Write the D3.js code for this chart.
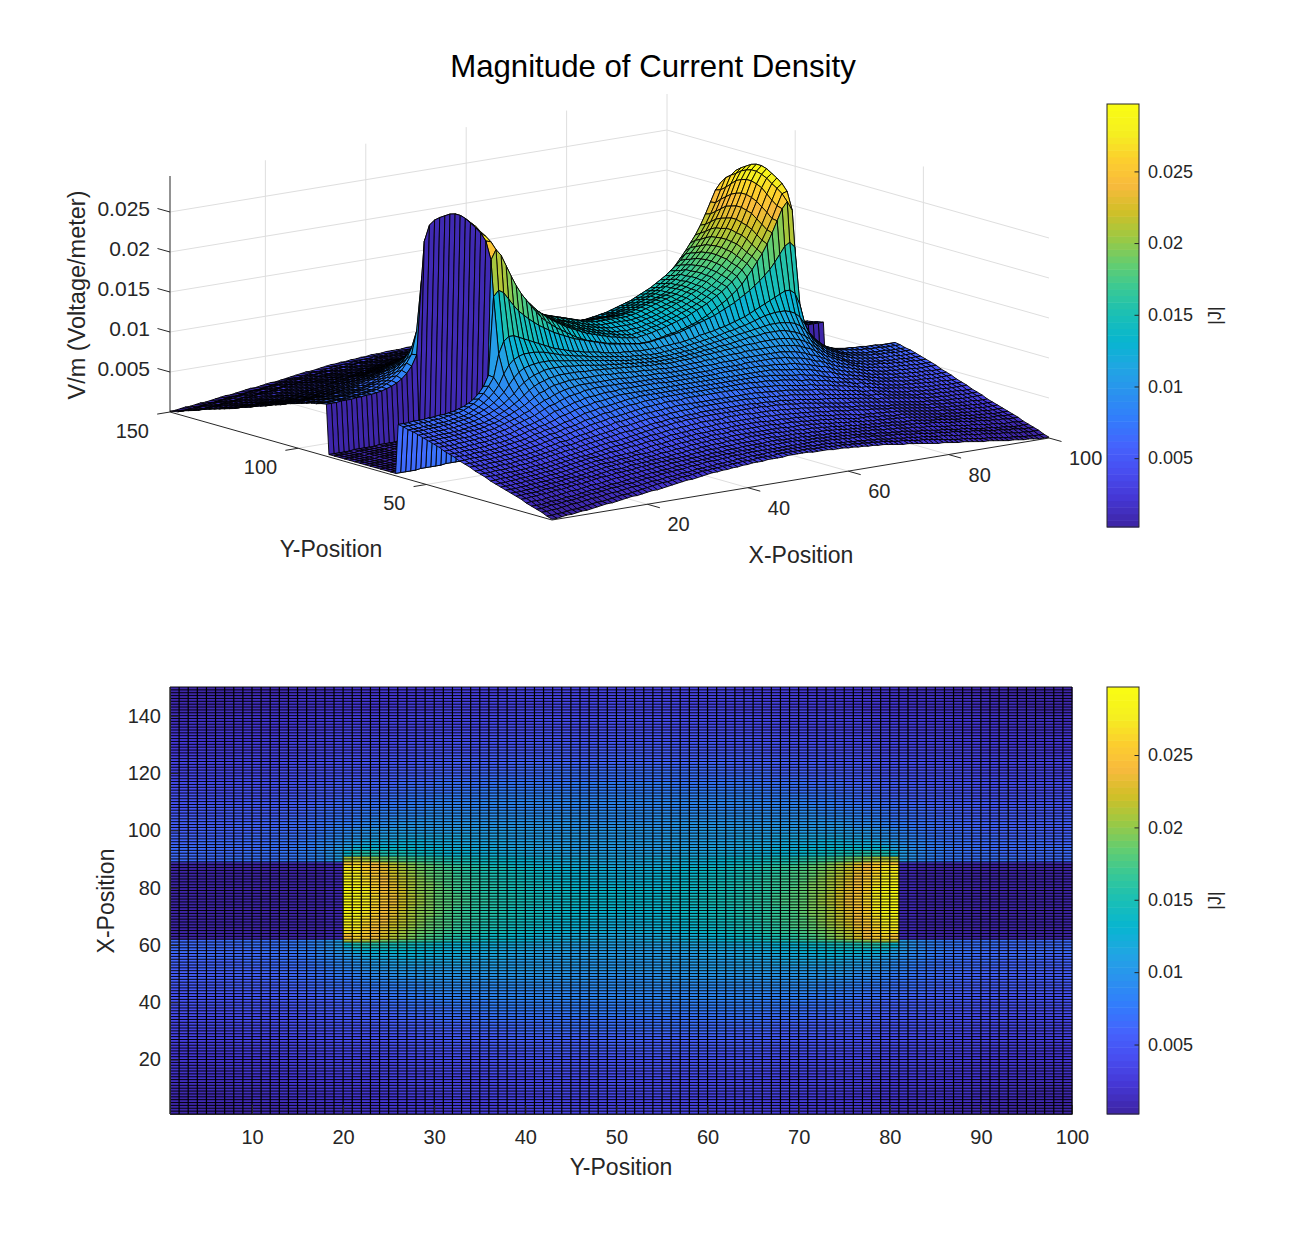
<!DOCTYPE html>
<html>
<head>
<meta charset="utf-8">
<script src="https://cdnjs.cloudflare.com/ajax/libs/d3/7.8.5/d3.min.js"></script>
<style>
  body { margin: 0; background: #fff; }
  text { font-family: "Liberation Sans", Arial, sans-serif; fill: #262626; }
</style>
</head>
<body>
<div id="chart"></div>
<script>
// |J|, in units of 0.0001. The plate looks mirror symmetric,
// so only one quarter is kept: one row per entry of rowY, columns are x = 1..50.
var rowY = [1,3,5,7,9,11,13,15,17,19,21,23,25,27,29,31,33,35,37,39,41,43,45,47,49,51,53,55,57,59,61,62,64,66,68,70,72,74];

var quarter = [
[1,1,2,3,3,4,5,5,6,7,8,9,9,10,11,12,13,13,14,15,16,16,17,18,19,20,21,22,22,23,24,25,26,26,27,27,28,28,29,29,30,30,30,31,31,31,31,32,32,32],
[3,3,4,4,5,6,6,7,8,9,10,10,11,12,13,14,14,15,16,17,18,19,20,21,21,22,23,24,24,25,26,27,27,28,28,29,29,30,30,31,31,31,32,32,32,32,33,33,33,33],
[6,6,7,7,8,9,10,10,11,12,13,13,14,15,16,16,17,18,19,19,20,21,22,22,23,24,24,25,26,26,27,28,28,29,29,30,30,31,31,32,32,33,33,33,33,34,34,34,34,34],
[8,8,9,10,10,11,12,12,13,14,15,16,16,17,18,19,19,20,21,21,22,23,24,24,25,26,27,27,28,28,29,30,30,31,32,32,32,33,33,34,34,34,35,35,35,35,35,35,35,35],
[10,10,10,11,12,12,13,14,14,15,16,17,18,18,19,20,21,21,22,23,24,24,25,26,27,27,28,28,29,30,30,31,32,32,33,33,34,34,35,35,35,36,36,36,36,37,37,37,37,37],
[12,13,13,13,14,15,15,16,17,18,18,19,20,21,21,22,23,24,25,25,26,27,27,28,29,29,30,30,31,32,32,33,33,34,34,35,35,36,36,36,37,37,37,38,38,38,38,38,39,39],
[15,15,16,16,17,17,18,19,19,20,21,22,22,23,24,25,26,26,27,28,28,29,29,30,31,31,32,32,33,33,34,34,35,35,36,37,37,38,38,38,39,39,39,40,40,40,40,40,41,41],
[17,17,18,18,18,19,20,20,21,22,22,23,24,25,26,26,27,28,29,30,30,30,31,32,32,33,33,34,34,35,35,36,37,37,38,39,39,40,40,41,41,41,42,42,42,42,43,43,43,43],
[19,19,19,20,20,21,21,22,23,23,24,25,26,26,27,28,29,30,31,32,32,33,33,34,34,35,35,36,36,37,38,38,39,40,40,41,42,42,43,43,44,44,44,44,45,45,45,45,45,45],
[21,21,21,22,22,23,23,24,24,25,26,26,27,28,29,30,31,32,33,34,34,34,35,36,36,37,38,38,38,39,40,41,42,42,43,44,44,45,45,46,46,47,47,47,47,48,48,48,48,48],
[23,23,23,24,24,25,25,26,26,27,28,28,29,30,31,32,33,34,35,36,36,37,37,38,38,39,39,40,41,42,43,44,44,45,46,47,47,48,48,49,49,49,50,50,50,50,51,51,51,51],
[25,25,25,26,26,27,27,28,28,29,30,30,31,32,33,34,35,36,37,38,38,39,40,41,41,42,43,44,44,45,46,47,47,48,49,50,50,51,51,52,52,53,53,53,54,54,54,54,54,54],
[27,27,28,28,28,29,29,30,30,31,32,32,33,34,35,36,37,38,39,39,40,41,42,43,44,45,45,46,47,48,49,50,51,51,52,53,54,54,55,55,56,56,57,57,57,57,57,58,58,58],
[30,30,30,30,31,31,31,32,32,33,34,34,35,36,37,38,39,40,41,42,43,44,45,46,47,48,48,49,50,51,52,53,54,55,56,57,57,58,59,59,60,60,60,61,61,61,61,61,61,61],
[32,32,32,33,33,33,34,34,35,35,36,37,38,39,40,41,42,43,44,44,46,47,48,49,50,51,52,53,54,55,55,56,57,58,59,60,60,61,62,62,62,63,63,63,64,64,64,64,64,64],
[34,34,35,35,35,36,36,36,37,38,38,39,40,41,42,43,44,46,47,47,48,50,51,52,53,54,55,56,57,59,59,60,61,62,63,64,64,65,65,66,66,67,67,67,68,68,68,68,68,68],
[37,37,37,37,38,38,38,39,39,40,41,41,42,43,44,46,47,48,50,50,51,53,54,55,56,58,59,60,61,63,63,64,65,66,67,68,68,69,69,70,70,71,71,71,71,71,71,71,71,71],
[39,39,39,40,40,40,41,41,42,42,43,44,45,46,47,48,50,51,53,53,55,56,58,59,60,62,63,64,65,67,67,68,69,70,71,72,73,73,74,74,75,75,75,75,76,76,76,76,76,76],
[41,41,42,42,42,43,43,44,44,45,45,46,47,48,50,51,53,54,56,56,58,60,61,62,64,66,67,68,70,71,71,73,74,75,76,76,77,78,78,78,79,79,79,79,79,79,79,79,79,79],
[44,44,44,44,45,45,45,46,46,47,48,49,50,51,52,54,56,57,59,60,61,63,65,66,68,70,72,73,74,76,76,77,78,79,80,81,81,82,82,82,82,82,82,82,82,82,82,82,82,82],
[46,46,46,47,47,47,48,48,49,50,50,51,52,54,55,57,59,60,62,63,65,67,70,71,73,75,77,78,79,81,81,82,83,84,85,85,85,85,85,85,85,85,85,85,85,85,85,85,85,85],
[48,48,49,49,49,50,50,51,51,52,53,54,55,56,58,60,62,63,65,67,69,72,75,76,78,80,82,83,85,86,86,87,88,88,88,89,89,89,89,89,89,89,89,89,88,88,88,88,88,88],
[51,51,51,51,52,52,53,53,54,54,55,56,58,59,61,63,65,67,69,71,74,77,80,81,84,86,88,89,90,92,92,93,93,93,93,93,93,93,92,92,92,92,92,92,91,91,91,91,91,91],
[53,53,53,54,54,55,55,55,56,57,58,59,60,62,64,66,68,70,73,75,79,82,85,87,90,92,94,95,96,97,97,97,97,97,97,97,97,97,96,96,96,96,95,95,95,95,94,94,94,94],
[55,55,56,56,56,57,57,58,59,59,60,61,63,64,66,69,71,74,77,80,84,88,92,94,97,99,100,101,102,102,102,102,102,102,102,102,101,101,101,100,100,99,99,99,98,98,98,97,97,97],
[57,57,57,58,58,58,59,59,60,61,62,63,64,66,68,71,74,77,81,85,90,95,99,102,104,106,107,108,108,108,108,108,107,107,107,106,106,105,105,104,104,103,103,102,102,101,101,101,100,100],
[59,59,59,60,60,60,61,61,62,63,64,65,67,69,71,74,77,81,86,91,98,103,107,110,112,114,115,115,115,115,114,113,113,112,111,110,109,108,108,107,106,106,105,104,104,103,103,102,102,102],
[61,61,61,62,62,62,63,63,64,65,66,67,69,71,74,77,81,86,92,100,108,114,118,120,121,122,122,122,121,120,119,118,117,116,115,114,113,112,111,110,109,108,107,106,106,105,105,104,104,104],
[62,62,62,63,63,63,64,64,65,66,67,68,70,73,76,80,85,91,99,112,122,128,131,133,133,133,132,131,129,127,125,123,122,120,119,118,116,115,114,113,112,111,110,109,108,108,107,107,106,106],
[64,64,64,65,65,65,66,66,67,68,69,70,72,75,78,83,89,97,107,135,150,155,155,152,149,146,143,140,137,134,131,129,127,125,123,122,120,119,118,117,115,114,113,112,112,111,111,110,110,110],
[65,65,65,66,66,66,67,67,68,68,69,70,72,74,77,81,87,95,108,205,212,208,199,190,182,176,170,165,160,156,152,148,145,142,139,136,134,132,130,128,126,124,122,121,120,119,118,117,116,116],
[3,3,3,3,3,4,4,4,4,4,5,5,5,5,6,6,6,7,8,250,262,254,240,226,213,202,193,184,176,168,162,157,152,148,144,140,136,133,130,128,126,124,122,121,120,118,117,116,115,115],
[3,3,3,3,3,4,4,4,4,4,5,5,5,5,6,6,6,7,8,272,270,256,241,228,216,206,198,190,183,176,170,165,160,156,152,148,145,142,139,136,134,132,130,128,126,125,123,122,121,120],
[3,3,3,3,3,4,4,4,4,4,5,5,5,5,6,6,6,7,8,280,275,261,247,233,221,210,201,193,186,179,173,167,162,158,154,150,147,144,141,139,136,134,132,130,128,127,125,124,123,122],
[3,3,3,3,3,4,4,4,4,4,5,5,5,5,6,6,6,7,8,285,279,267,252,238,226,215,205,196,188,181,175,169,164,160,156,152,149,146,143,141,138,136,134,132,130,129,127,126,126,125],
[3,3,3,3,3,4,4,4,4,4,5,5,5,5,6,6,6,7,8,289,284,273,257,243,229,218,208,199,191,184,177,172,167,162,158,155,151,148,146,143,141,138,136,134,133,131,130,129,129,129],
[3,3,3,3,3,4,4,4,4,4,5,5,5,5,6,6,6,7,8,293,287,276,260,245,231,219,209,200,192,185,178,172,167,162,158,155,151,148,146,144,142,140,138,136,134,133,132,132,132,132],
[3,3,3,3,3,4,4,4,4,4,5,5,5,5,6,6,6,7,8,295,289,278,262,247,233,221,210,201,193,186,179,173,168,163,159,156,152,150,148,146,144,142,140,138,136,135,134,134,134,134]
];

var xTicks3d = [20, 40, 60, 80, 100];
var yTicks3d = [50, 100, 150];
var zTicks3d = [0.005, 0.01, 0.015, 0.02, 0.025];
var xTicks2d = [10, 20, 30, 40, 50, 60, 70, 80, 90, 100];
var yTicks2d = [20, 40, 60, 80, 100, 120, 140];
var cbarTicks = [0.005, 0.01, 0.015, 0.02, 0.025];
var cLimits = [0.0002, 0.0297];

// parula, every 4th entry of the 64 level map
var parulaStops = ["#3E26A8","#4537D5","#484DF0","#4563FD","#327CFC","#2B91EF","#20A5E3","#08B5D0",
  "#19BFB6","#37C897","#64CD6F","#9DC943","#D1BF27","#F8BA3D","#FCCF2E","#F5EF20","#F9FB14"];

function init() {

  var w = 1306;
  var h = 1253;

  var svg = d3.select("#chart").append("svg")
    .attr("width", w)
    .attr("height", h);

  // full node lists, rebuilt from the quarter by mirroring
  var xNodes = d3.range(1, 101);
  var yNodes = rowY.concat(rowY.slice().reverse().map(function(y) { return y == 1 ? 150 : 150 - y; }));
  var rowIndex = rowY.concat(rowY.slice().reverse()).map(function(y) { return rowY.indexOf(y); });

  function value(i, j) {
    var x = xNodes[i];
    var col = x <= 50 ? x : Math.max(100 - x, 1);
    return quarter[rowIndex[j]][col - 1] / 10000;
  }

  var ramp = d3.piecewise(d3.interpolateRgb, parulaStops);
  var cScale = d3.scaleLinear().domain(cLimits).range([0, 1]).clamp(true);
  function colour(v) {
    return ramp(Math.min(Math.floor(cScale(v) * 64), 63) / 63);
  }

  // 3D view: oblique projection built from one scale per axis direction
  var originX = 552, originY = 520;
  var xToPx = d3.scaleLinear().domain([1, 100]).range([0, 497]);
  var xToPy = d3.scaleLinear().domain([1, 100]).range([0, -82]);
  var yToPx = d3.scaleLinear().domain([1, 150]).range([0, -382]);
  var yToPy = d3.scaleLinear().domain([1, 150]).range([0, -108]);
  var zToPy = d3.scaleLinear().domain([0, 0.0295]).range([0, -236]);
  var zTop = 0.0295;

  function proj(x, y, z) {
    return [originX + xToPx(x) + yToPx(y), originY + xToPy(x) + yToPy(y) + zToPy(z)];
  }
  var line3 = d3.line();

  var grid = svg.append("g")
    .attr("fill", "none")
    .attr("stroke", "#dedede")
    .attr("stroke-width", 1);

  function gridLine(a, b) {
    grid.append("path").attr("d", line3([a, b]));
  }

  xTicks3d.slice(0, 4).forEach(function(x) {
    gridLine(proj(x, 1, 0), proj(x, 150, 0));
    gridLine(proj(x, 150, 0), proj(x, 150, zTop));
  });
  yTicks3d.forEach(function(y) {
    gridLine(proj(1, y, 0), proj(100, y, 0));
    gridLine(proj(100, y, 0), proj(100, y, zTop));
  });
  zTicks3d.forEach(function(z) {
    gridLine(proj(1, 150, z), proj(100, 150, z));
    gridLine(proj(100, 150, z), proj(100, 1, z));
  });

  // axis lines and ticks go under the surface
  var axes3 = svg.append("g")
    .attr("fill", "none")
    .attr("stroke", "#262626")
    .attr("stroke-width", 1);
  axes3.append("path").attr("d", line3([proj(1, 1, 0), proj(100, 1, 0)]));
  axes3.append("path").attr("d", line3([proj(1, 1, 0), proj(1, 150, 0)]));
  axes3.append("path").attr("d", line3([proj(1, 150, 0), proj(1, 150, zTop)]));

  xTicks3d.forEach(function(x) {
    var p = proj(x, 1, 0);
    axes3.append("path").attr("d", line3([p, [p[0] + 12.5, p[1] + 3.5]]));
  });
  yTicks3d.forEach(function(y) {
    var p = proj(1, y, 0);
    axes3.append("path").attr("d", line3([p, [p[0] - 12.8, p[1] + 2.1]]));
  });
  zTicks3d.forEach(function(z) {
    var p = proj(1, 150, z);
    axes3.append("path").attr("d", line3([p, [p[0] - 12.5, p[1] - 3.5]]));
  });

  // surface, far corner first so nearer cells paint over it
  var surface = svg.append("g")
    .attr("stroke", "#000")
    .attr("stroke-width", 0.9)
    .attr("stroke-linejoin", "round");

  for (var i = xNodes.length - 2; i >= 0; i--) {
    for (var j = yNodes.length - 2; j >= 0; j--) {
      surface.append("path")
        .attr("d", line3([
          proj(xNodes[i], yNodes[j], value(i, j)),
          proj(xNodes[i + 1], yNodes[j], value(i + 1, j)),
          proj(xNodes[i + 1], yNodes[j + 1], value(i + 1, j + 1)),
          proj(xNodes[i], yNodes[j + 1], value(i, j + 1))
        ]) + "Z")
        .attr("fill", colour(value(i, j)));
    }
  }

  // 3D tick labels
  xTicks3d.forEach(function(x) {
    var p = proj(x, 1, 0);
    svg.append("text").attr("x", p[0] + 20).attr("y", p[1] + 27)
      .attr("text-anchor", "start").attr("font-size", 20).text(x);
  });
  yTicks3d.forEach(function(y) {
    var p = proj(1, y, 0);
    svg.append("text").attr("x", p[0] - 21).attr("y", p[1] + 26)
      .attr("text-anchor", "end").attr("font-size", 20).text(y);
  });
  zTicks3d.forEach(function(z) {
    var p = proj(1, 150, z);
    svg.append("text").attr("x", 150).attr("y", p[1] + 4)
      .attr("text-anchor", "end").attr("font-size", 21).text(z);
  });

  svg.append("text").attr("x", 653).attr("y", 77)
    .attr("text-anchor", "middle").attr("font-size", 31.2).style("fill", "#000")
    .text("Magnitude of Current Density");
  svg.append("text").attr("x", 331).attr("y", 557)
    .attr("text-anchor", "middle").attr("font-size", 23).text("Y-Position");
  svg.append("text").attr("x", 801).attr("y", 563)
    .attr("text-anchor", "middle").attr("font-size", 23).text("X-Position");
  svg.append("text").attr("transform", "translate(85,295) rotate(-90)")
    .attr("text-anchor", "middle").attr("font-size", 23.5).text("V/m (Voltage/meter)");

  // top down view
  var x2 = d3.scaleLinear().domain([1, 100]).range([170, 1072]);
  var y2 = d3.scaleLinear().domain([1, 150]).range([1114, 687]);

  var flat = svg.append("g");

  for (i = 0; i < xNodes.length - 1; i++) {
    for (j = 0; j < yNodes.length - 1; j++) {
      flat.append("rect")
        .attr("x", x2(xNodes[i]))
        .attr("y", y2(yNodes[j + 1]))
        .attr("width", x2(xNodes[i + 1]) - x2(xNodes[i]) + 0.5)
        .attr("height", y2(yNodes[j]) - y2(yNodes[j + 1]) + 0.5)
        .attr("fill", colour(value(i, j)));
    }
  }

  // the mesh itself sits on every whole unit of both axes
  var mesh = svg.append("g").attr("stroke", "#000");
  d3.range(1, 151).forEach(function(y) {
    mesh.append("line").attr("x1", x2(1)).attr("x2", x2(100))
      .attr("y1", y2(y)).attr("y2", y2(y)).attr("stroke-width", 0.95);
  });
  d3.range(1, 101).forEach(function(x) {
    mesh.append("line").attr("y1", y2(1)).attr("y2", y2(150))
      .attr("x1", x2(x)).attr("x2", x2(x)).attr("stroke-width", 1.2);
  });

  var xAxis = d3.axisBottom(x2).tickValues(xTicks2d).tickSize(-9).tickSizeOuter(0).tickPadding(16);
  var yAxis = d3.axisLeft(y2).tickValues(yTicks2d).tickSize(-9).tickSizeOuter(0).tickPadding(9);

  function styleAxis(g, size) {
    g.attr("font-family", null).attr("font-size", size);
    g.selectAll("line").attr("stroke", "#262626");
    g.selectAll(".domain").attr("stroke", "#262626");
  }

  svg.append("g").attr("transform", "translate(0,1114)").call(xAxis).call(styleAxis, 20);
  svg.append("g").attr("transform", "translate(170,0)").call(yAxis).call(styleAxis, 20);

  svg.append("text").attr("x", 621).attr("y", 1175)
    .attr("text-anchor", "middle").attr("font-size", 23).text("Y-Position");
  svg.append("text").attr("transform", "translate(114,901) rotate(-90)")
    .attr("text-anchor", "middle").attr("font-size", 23).text("X-Position");

  // colour bars
  function colourBar(top, bottom) {
    var scale = d3.scaleLinear().domain(cLimits).range([bottom, top]);
    var g = svg.append("g");
    var levels = d3.range(64);
    var band = (bottom - top) / 64;
    g.selectAll("rect").data(levels).enter().append("rect")
      .attr("x", 1107)
      .attr("y", function(d) { return bottom - (d + 1) * band; })
      .attr("width", 32)
      .attr("height", band + 0.5)
      .attr("fill", function(d) { return ramp(d / 63); });
    g.append("rect").attr("x", 1107).attr("y", top).attr("width", 32).attr("height", bottom - top)
      .attr("fill", "none").attr("stroke", "#262626");
    svg.append("g").attr("transform", "translate(1139,0)")
      .call(d3.axisRight(scale).tickValues(cbarTicks).tickSize(-4.5).tickPadding(9)
        .tickFormat(function(d) { return d; }))
      .call(styleAxis, 18)
      .select(".domain").remove();
    svg.append("text")
      .attr("transform", "translate(1221," + ((top + bottom) / 2) + ") rotate(-90)")
      .attr("text-anchor", "middle").attr("font-size", 18).text("|J|");
  }

  colourBar(104, 527);
  colourBar(687, 1114);
}

window.onload = init;
</script>
</body>
</html>
